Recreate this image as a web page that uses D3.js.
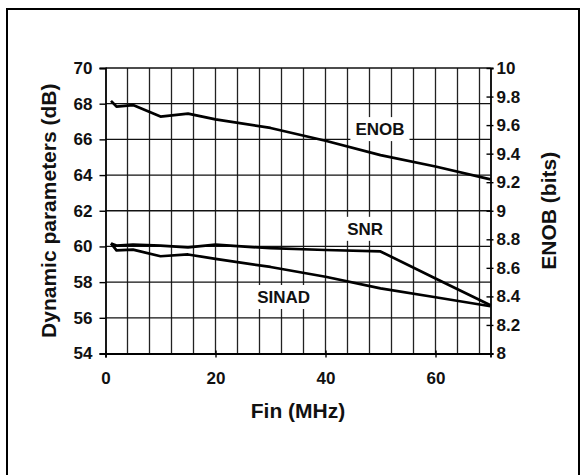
<!DOCTYPE html>
<html>
<head>
<meta charset="utf-8">
<script src="https://cdn.jsdelivr.net/npm/d3@7"></script>
<style>
  body { margin: 0; background: #fff; }
  text { font-family: "Liberation Sans", Arial, sans-serif; font-weight: bold; fill: #111; }
</style>
</head>
<body>
<svg id="dyn_chart" width="586" height="475"></svg>
<script>
// values
const fin_mhz = [1, 2, 5, 10, 15, 20, 30, 40, 50, 60, 70];
const snr_db = [60.17, 60.05, 60.1, 60.05, 59.95, 60.1, 59.9, 59.8, 59.72, 58.2, 56.7];
const sinad_db = [60.17, 59.78, 59.82, 59.45, 59.55, 59.3, 58.85, 58.3, 57.65, 57.15, 56.65];
const enob_bits = [9.77, 9.73, 9.74, 9.66, 9.68, 9.64, 9.58, 9.49, 9.39, 9.31, 9.22];

const x_ticks = [0, 20, 40, 60];
const left_ticks = [54, 56, 58, 60, 62, 64, 66, 68, 70];
const right_ticks = [8, 8.2, 8.4, 8.6, 8.8, 9, 9.2, 9.4, 9.6, 9.8, 10];
const curve_labels = [
  { text: "ENOB", fin: 49.9, db: 66.24 },
  { text: "SNR", fin: 47.2, db: 60.65 },
  { text: "SINAD", fin: 32.4, db: 56.83 }
];

const svg = d3.select("svg#dyn_chart");
const plot = { left: 105.5, right: 490.5, top: 68, bottom: 353.5 };

const x = d3.scaleLinear([0, 70], [plot.left, plot.right]);
const y_db = d3.scaleLinear([54, 70], [plot.bottom, plot.top]);
const y_bits = d3.scaleLinear([8, 10], [plot.bottom, plot.top]);

// outer frame (bottom edge falls outside the picture)
svg.append("rect")
  .attr("x", 7).attr("y", 9)
  .attr("width", 572).attr("height", 480)
  .attr("fill", "none")
  .attr("stroke", "#000")
  .attr("stroke-width", 2);

// grid
const grid = svg.append("g").attr("id", "grid");
grid.selectAll("line.vgrid")
  .data(d3.range(4, 70, 4))
  .join("line")
  .attr("class", "vgrid")
  .attr("x1", d => x(d)).attr("x2", d => x(d))
  .attr("y1", plot.top).attr("y2", plot.bottom)
  .attr("stroke", "#222")
  .attr("stroke-width", 1.3);
grid.selectAll("line.hgrid")
  .data(left_ticks.filter(d => d > 54))
  .join("line")
  .attr("class", "hgrid")
  .attr("x1", plot.left).attr("x2", plot.right)
  .attr("y1", d => y_db(d)).attr("y2", d => y_db(d))
  .attr("stroke", "#111")
  .attr("stroke-width", 1.3);

// axes
const axis_left = svg.append("g")
  .attr("transform", `translate(${plot.left},0)`)
  .call(d3.axisLeft(y_db).tickValues(left_ticks).tickSize(6).tickPadding(7));
const axis_right = svg.append("g")
  .attr("transform", `translate(${plot.right},0)`)
  .call(d3.axisRight(y_bits).tickValues(right_ticks).tickSize(3).tickPadding(3)
    .tickFormat(d => d3.format("~g")(d)));
axis_right.selectAll(".tick line").attr("x1", -4);
const axis_bottom = svg.append("g")
  .attr("transform", `translate(0,${plot.bottom})`)
  .call(d3.axisBottom(x).tickValues(x_ticks).tickSize(4).tickPadding(14));
axis_bottom.selectAll(".tick line").attr("y1", -3);

[axis_left, axis_right, axis_bottom].forEach(a => {
  a.select(".domain").attr("stroke", "#000").attr("stroke-width", 1.8);
  a.selectAll(".tick line").attr("stroke", "#000").attr("stroke-width", 1.4);
  a.selectAll(".tick text")
    .attr("fill", "#111")
    .style("font-family", "Liberation Sans, Arial, sans-serif")
    .style("font-weight", "bold")
    .style("font-size", "17px");
});

// curves
const series = [
  { name: "SNR", values: snr_db, scale: y_db },
  { name: "SINAD", values: sinad_db, scale: y_db },
  { name: "ENOB", values: enob_bits, scale: y_bits }
];
const curves = svg.append("g").attr("id", "curves");
series.forEach(s => {
  const line = d3.line()
    .x((d, i) => x(fin_mhz[i]))
    .y(d => s.scale(d));
  curves.append("path")
    .datum(s.values)
    .attr("d", line)
    .attr("fill", "none")
    .attr("stroke", "#000")
    .attr("stroke-width", 2.7)
    .attr("stroke-linejoin", "round");
});

// curve name tags on white boxes
const tags = svg.append("g").attr("id", "tags");
curve_labels.forEach(l => {
  const g = tags.append("g");
  const t = g.append("text")
    .attr("x", x(l.fin))
    .attr("y", y_db(l.db))
    .attr("text-anchor", "middle")
    .style("font-size", "17px")
    .text(l.text);
  const b = t.node().getBBox();
  g.insert("rect", "text")
    .attr("x", b.x - 5).attr("y", b.y - 3)
    .attr("width", b.width + 10).attr("height", b.height + 5)
    .attr("fill", "#fff");
});

// axis titles
svg.append("text")
  .attr("x", (plot.left + plot.right) / 2)
  .attr("y", 418)
  .attr("text-anchor", "middle")
  .style("font-size", "21px")
  .text("Fin (MHz)");
svg.append("text")
  .attr("transform", `translate(56,${(plot.top + plot.bottom) / 2}) rotate(-90)`)
  .attr("text-anchor", "middle")
  .style("font-size", "21px")
  .text("Dynamic parameters (dB)");
svg.append("text")
  .attr("transform", `translate(556,${(plot.top + plot.bottom) / 2}) rotate(-90)`)
  .attr("text-anchor", "middle")
  .style("font-size", "21px")
  .text("ENOB (bits)");
</script>
</body>
</html>
